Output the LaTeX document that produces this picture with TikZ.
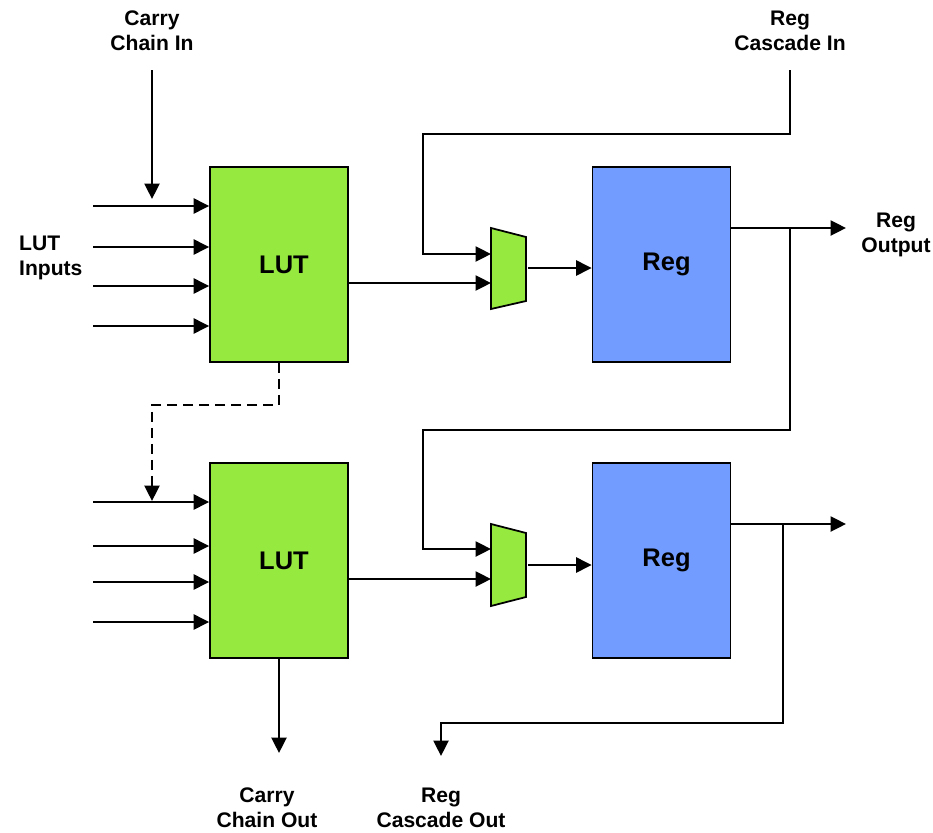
\documentclass[tikz,border=0pt]{standalone}
\usepackage{fontspec}
\setmainfont{Liberation Sans}
\definecolor{lutgreen}{RGB}{150,233,62}
\definecolor{regblue}{RGB}{114,156,255}
\usepackage{tikz}
\usetikzlibrary{arrows.meta,positioning,calc}

\begin{document}
\begin{tikzpicture}[x=0.02cm, y=-0.02cm,
    sig/.style={line width=1.5pt, -{Triangle[length=0.31cm,width=0.3cm]}},
    lut/.style={draw, line width=1pt, fill=lutgreen, minimum width=2.76cm, minimum height=3.9cm, font=\fontsize{14.5}{17}\selectfont\bfseries},
    reg/.style={lut, fill=regblue},
    mux/.style={draw, line width=1pt, fill=lutgreen},
    lbl/.style={align=center, font=\fontsize{12}{14.2}\selectfont\bfseries}]
  \useasboundingbox (0,0) rectangle (933,832);

  % Blocks
  \node[lut] (lut1) at (279,264.5) {\hspace{0.2cm}LUT};
  \node[reg] (reg1) at (661.5,264.5) {\hspace{0.2cm}Reg};
  \node[lut] (lut2) at (279,560.5) {\hspace{0.2cm}LUT};
  \node[reg] (reg2) at (661.5,560.5) {\hspace{0.2cm}Reg};

  % Muxes
  \draw[mux] (491,228) -- (526,237) -- (526,301) -- (491,309) -- cycle;
  \draw[mux] (491,524) -- (526,533) -- (526,597) -- (491,606) -- cycle;
  \coordinate (m1a) at (491,254);
  \coordinate (m1b) at (491,283);
  \coordinate (m1o) at (528,268);
  \coordinate (m2a) at (491,549);
  \coordinate (m2b) at (491,579);
  \coordinate (m2o) at (528,565);

  % LUT inputs
  \foreach \y [count=\i] in {206,247,286,326}
    \coordinate (a\i) at (93,\y);
  \foreach \y [count=\i] in {502,546,582,622}
    \coordinate (b\i) at (93,\y);
  \foreach \i in {1,...,4} {
    \draw[sig] (a\i) -- (a\i -| lut1.west);
    \draw[sig] (b\i) -- (b\i -| lut2.west);
  }
  \node[lbl, align=left, anchor=west] (inlbl) at (13,258) {LUT\\Inputs};

  % Carry chain
  \node[lbl] (cinlbl) at (152,31) {Carry\\Chain In};
  \coordinate (cin) at (152,70);
  \coordinate (cinend) at (152,199);
  \draw[sig] (cin) -- (cinend);
  \coordinate (cbend) at (152,405);
  \coordinate (cmid) at (152,501);
  \draw[sig, dashed, dash pattern=on 0.2cm off 0.12cm] (lut1.south) |- (cbend) -- (cmid);
  \coordinate (cout) at (279,753);
  \draw[sig] (lut2.south) -- (cout);
  \node[lbl] (coutlbl) at (267,808) {Carry\\Chain Out};

  % LUT to mux to reg
  \draw[sig] (lut1.east |- m1b) -- (m1b);
  \draw[sig] (m1o) -- (reg1.west |- m1o);
  \draw[sig] (lut2.east |- m2b) -- (m2b);
  \draw[sig] (m2o) -- (reg2.west |- m2o);

  % Register cascade
  \node[lbl] (rcinlbl) at (790,31) {Reg\\Cascade In};
  \coordinate (rcin) at (790,70);
  \coordinate (k1) at (423,134);
  \draw[sig] (rcin) |- (k1) |- (m1a);
  \coordinate (out1) at (846,228);
  \draw[sig] (reg1.east |- out1) -- (out1);
  \node[lbl] (outlbl) at (896,235) {Reg\\Output};
  \coordinate (j1) at (790,228);
  \coordinate (k2) at (423,430);
  \draw[sig] (j1) |- (k2) |- (m2a);
  \coordinate (out2) at (846,524);
  \draw[sig] (reg2.east |- out2) -- (out2);
  \coordinate (j2) at (783,524);
  \coordinate (k3) at (441,723);
  \coordinate (rcout) at (441,756);
  \draw[sig] (j2) |- (k3) -- (rcout);
  \node[lbl] (rcoutlbl) at (441,808) {Reg\\Cascade Out};
\end{tikzpicture}
\end{document}
